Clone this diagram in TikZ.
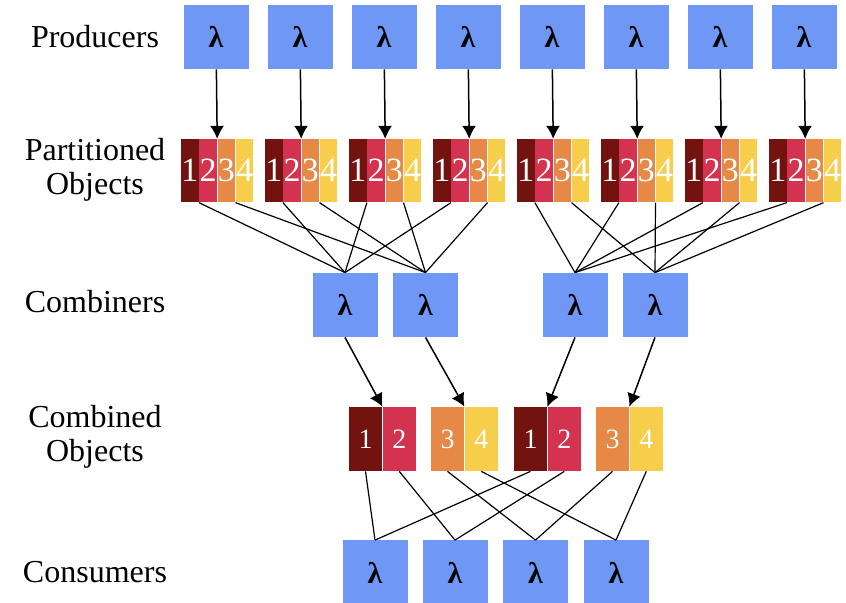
\documentclass[tikz,border=0pt]{standalone}
\usepackage{fontspec}
\setmainfont{Liberation Serif}
\usetikzlibrary{arrows.meta,positioning}

\definecolor{lamblue}{RGB}{111,151,245}
\definecolor{partone}{RGB}{114,19,15}
\definecolor{parttwo}{RGB}{211,51,79}
\definecolor{partthree}{RGB}{230,136,70}
\definecolor{partfour}{RGB}{247,206,75}

\begin{document}
\begin{tikzpicture}[x=0.5pt,y=-0.5pt,>={Latex[length=6.5pt,width=7pt]}]
        \tikzset{block/.style= {fill=lamblue, inner sep=0pt, minimum width=32.5pt, minimum height=32pt, font=\bfseries\fontsize{15}{15}\selectfont},
          strip/.style= {inner sep=0pt, minimum width=8.75pt, minimum height=31.5pt, text=white, font=\fontsize{17}{17}\selectfont},
          half/.style= {inner sep=0pt, minimum width=16.5pt, minimum height=32pt, text=white, font=\fontsize{14}{14}\selectfont},
          rowlabel/.style= {align=center, font=\fontsize{16}{17}\selectfont},
          link/.style= {draw, line width=0.6pt},
        }
        \useasboundingbox (0,0) rectangle (846,603);

        \node [rowlabel] (lprod) at (95,37) {Producers};
        \node [rowlabel] (lpart) at (95,170) {Partitioned\\Objects};
        \node [rowlabel] (lcomb) at (95,302) {Combiners};
        \node [rowlabel] (lcobj) at (95,437) {Combined\\Objects};
        \node [rowlabel] (lcons) at (95,572) {Consumers};

        % producers and their partitioned objects
        \foreach \i in {1,...,8} {
          \node [block] (prod\i) at (132+84*\i,37) {λ};
          \node [strip, fill=partone] (pa\i) at (105.75+84*\i,170.75) {1};
          \node [strip, fill=parttwo, right=0pt of pa\i] (pb\i) {2};
          \node [strip, fill=partthree, right=0pt of pb\i] (pc\i) {3};
          \node [strip, fill=partfour, right=0pt of pc\i] (pd\i) {4};
          \path[draw, ->, line width=0.75pt] (prod\i) -- (pb\i.north east);
        }

        \node [block] (comb1) at (345,305) {λ};
        \node [block] (comb2) at (425.5,305) {λ};
        \node [block] (comb3) at (575,305) {λ};
        \node [block] (comb4) at (655,305) {λ};

        \foreach \i in {1,...,4} {
          \path[link] (pa\i.south east) -- (comb1.north)
                      (pc\i.south east) -- (comb2.north);
        }
        \foreach \i in {5,...,8} {
          \path[link] (pa\i.south east) -- (comb3.north)
                      (pc\i.south east) -- (comb4.north);
        }

        % combined objects
        \node [half, fill=partone] (co1a) at (365.5,439) {1};
        \node [half, fill=parttwo, right=0pt of co1a] (co1b) {2};
        \node [half, fill=partthree] (co2a) at (447.5,439) {3};
        \node [half, fill=partfour, right=0pt of co2a] (co2b) {4};
        \node [half, fill=partone] (co3a) at (530.5,439) {1};
        \node [half, fill=parttwo, right=0pt of co3a] (co3b) {2};
        \node [half, fill=partthree] (co4a) at (612.5,439) {3};
        \node [half, fill=partfour, right=0pt of co4a] (co4b) {4};

        \foreach \k in {1,...,4} {
          \path[draw, ->, line width=0.75pt] (comb\k.south) -- (co\k a.north east);
        }

        \node [block] (cons1) at (375,572.5) {λ};
        \node [block] (cons2) at (455,572.5) {λ};
        \node [block] (cons3) at (535.5,572.5) {λ};
        \node [block] (cons4) at (616,572.5) {λ};

        \path[link]
            (co1a.south) -- (cons1.north)
            (co1b.south) -- (cons2.north)
            (co2a.south) -- (cons3.north)
            (co2b.south) -- (cons4.north)
            (co3a.south) -- (cons1.north)
            (co3b.south) -- (cons2.north)
            (co4a.south) -- (cons3.north)
            (co4b.south) -- (cons4.north);
\end{tikzpicture}
\end{document}
